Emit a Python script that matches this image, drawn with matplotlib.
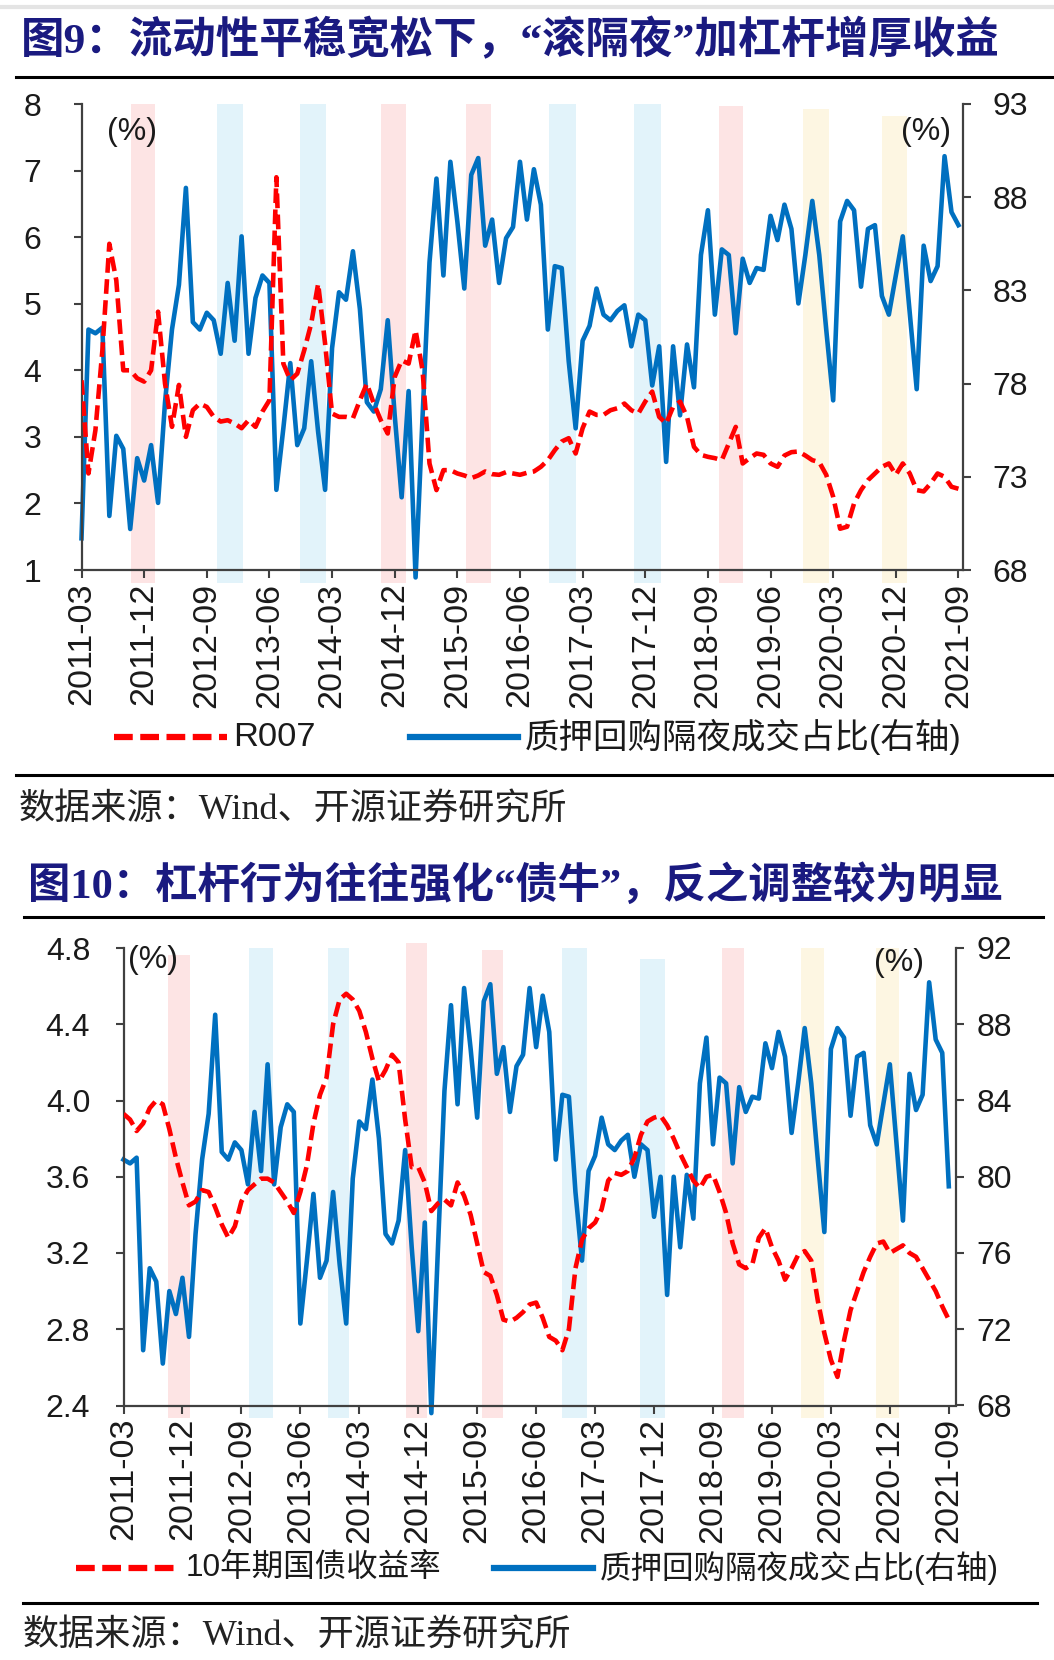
import matplotlib
matplotlib.use('Agg')
import matplotlib.pyplot as plt
from matplotlib.lines import Line2D

plt.rcParams['font.family'] = ['Liberation Sans', 'Noto Sans CJK SC', 'DejaVu Sans']

# ---------------- data ----------------
tick_labels = ['2011-03', '2011-12', '2012-09', '2013-06', '2014-03', '2014-12', '2015-09',
               '2016-06', '2017-03', '2017-12', '2018-09', '2019-06', '2020-03', '2020-12',
               '2021-09']

# 质押回购隔夜成交占比 (%), monthly; fig 9 uses [:-1], fig 10 uses [1:]
overnight_share = [
    69.7, 80.9, 80.7, 81.0, 70.9, 75.2, 74.5, 70.2, 74.0, 72.8,
    74.7, 71.6, 77.0, 80.9, 83.3, 88.5, 81.3, 80.9, 81.8, 81.4,
    79.6, 83.4, 80.3, 85.9, 79.6, 82.6, 83.8, 83.4, 72.3, 75.6,
    79.1, 74.7, 75.6, 79.2, 75.4, 72.3, 79.9, 82.9, 82.5, 85.1,
    82.0, 77.0, 76.5, 77.7, 81.4, 76.3, 71.9, 77.6, 67.6, 76.2,
    84.5, 89.0, 83.8, 89.9, 86.7, 83.1, 89.2, 90.1, 85.4, 86.8,
    83.4, 85.8, 86.4, 89.9, 86.8, 89.5, 87.6, 80.9, 84.3, 84.2,
    79.2, 75.6, 80.3, 81.1, 83.1, 81.7, 81.4, 81.9, 82.2, 80.0,
    81.7, 81.4, 77.9, 80.0, 73.8, 80.0, 76.3, 80.1, 77.8, 84.9,
    87.3, 81.7, 85.2, 84.9, 80.7, 84.7, 83.4, 84.2, 84.1, 87.0,
    85.7, 87.6, 86.3, 82.3, 84.9, 87.8, 84.9, 80.9, 77.1, 86.7,
    87.8, 87.3, 83.2, 86.3, 86.5, 82.7, 81.7, 83.8, 85.9, 81.8,
    77.7, 85.4, 83.5, 84.3, 90.2, 87.2, 86.5, 79.5]

# R007 (%)
r007 = [
    3.85, 2.45, 3.1, 4.3, 5.9, 5.35, 4.0, 4.0, 3.88, 3.83,
    4.0, 4.88, 3.8, 3.15, 3.78, 3.0, 3.4, 3.5, 3.45, 3.3,
    3.23, 3.25, 3.2, 3.13, 3.25, 3.15, 3.38, 3.55, 6.9, 4.1,
    3.85, 3.95, 4.3, 4.7, 5.3, 4.4, 3.35, 3.3, 3.3, 3.28,
    3.55, 3.8, 3.5, 3.25, 3.05, 3.9, 4.15, 4.1, 4.6, 4.0,
    2.6, 2.2, 2.5, 2.5, 2.45, 2.42, 2.38, 2.42, 2.48, 2.44,
    2.43, 2.47, 2.45, 2.43, 2.46, 2.48, 2.55, 2.65, 2.8, 2.93,
    2.98, 2.75, 3.13, 3.38, 3.33, 3.33, 3.4, 3.43, 3.5, 3.4,
    3.35, 3.53, 3.68, 3.3, 3.2, 3.45, 3.53, 3.3, 2.85, 2.73,
    2.7, 2.68, 2.65, 2.9, 3.15, 2.6, 2.68, 2.75, 2.73, 2.6,
    2.55, 2.72, 2.77, 2.78, 2.72, 2.65, 2.62, 2.43, 2.1, 1.62,
    1.65, 2.0, 2.2, 2.35, 2.45, 2.55, 2.6, 2.43, 2.6, 2.45,
    2.2, 2.18, 2.3, 2.45, 2.4, 2.25, 2.22]

# 10年期国债收益率 (%)
cgb10y = [
    3.93, 3.9, 3.84, 3.88, 3.96, 4.0, 3.98, 3.85, 3.7, 3.57,
    3.45, 3.47, 3.53, 3.52, 3.44, 3.35, 3.28, 3.34, 3.47, 3.53,
    3.56, 3.59, 3.59, 3.57, 3.52, 3.47, 3.41, 3.52, 3.66, 3.88,
    4.03, 4.12, 4.4, 4.53, 4.56, 4.53, 4.47, 4.36, 4.22, 4.1,
    4.16, 4.24, 4.2, 3.9, 3.65, 3.65, 3.57, 3.42, 3.46, 3.48,
    3.45, 3.57, 3.5, 3.4, 3.25, 3.1, 3.08, 2.98, 2.85, 2.84,
    2.86, 2.89, 2.93, 2.94, 2.86, 2.76, 2.74, 2.69, 2.8, 3.12,
    3.27, 3.33, 3.36, 3.43, 3.58, 3.62, 3.61, 3.63, 3.7, 3.82,
    3.89, 3.91, 3.92, 3.87, 3.8, 3.72, 3.65, 3.58, 3.54, 3.6,
    3.61, 3.52, 3.41, 3.25, 3.14, 3.12, 3.14, 3.28, 3.33, 3.23,
    3.16, 3.06, 3.12, 3.19, 3.21, 3.16, 2.95, 2.78, 2.64, 2.55,
    2.74, 2.9, 3.0, 3.1, 3.18, 3.25, 3.26, 3.2, 3.22, 3.24,
    3.2, 3.18, 3.12, 3.06, 3.0, 2.92, 2.85]

# shaded periods (month offsets from 2011-03)
spans_fig9 = [(7.1, 10.6), (19.4, 23.2), (31.4, 35.2), (43.1, 46.6), (55.3, 58.8),
              (67.2, 71.0), (79.4, 83.3), (91.6, 95.0), (103.6, 107.4), (115.0, 118.6)]
spans_fig10 = [(6.8, 10.1), (19.2, 22.8), (31.2, 34.4), (43.2, 46.4), (54.8, 57.9),
               (67.0, 70.7), (78.9, 82.7), (91.3, 94.7), (103.4, 106.9), (114.9, 118.4)]
span_kind = ['pink', 'blue', 'blue', 'pink', 'pink', 'blue', 'blue', 'pink', 'yellow', 'yellow']

# ---------------- style ----------------
W, H = 1054, 1660
band_colors = {'pink': '#fde4e4', 'blue': '#e2f3fa', 'yellow': '#fdf6e2'}
RED = '#ff0000'
BLUE = '#0070c0'
NAVY = '#1a1a80'
SPINE = '#404040'
CJK_SERIF = ['Liberation Serif', 'Noto Sans CJK SC']

fig = plt.figure(figsize=(W / 100, H / 100), dpi=100)


def fx(px):
    return px / W


def fy(py):
    return 1 - py / H


def hline(y, x0, x1, color='black', lw=2.2):
    fig.add_artist(Line2D([fx(x0), fx(x1)], [fy(y), fy(y)], color=color, lw=lw))


def draw_panel(box, red, blue, llim, lticks, lfmt, rlim, rticks, spans, tops,
               xmax, lpad, rpad):
    left, top, right, bottom = box
    ax = fig.add_axes([fx(left), fy(bottom), (right - left) / W, (bottom - top) / H])
    axr = ax.twinx()
    ax.set_zorder(axr.get_zorder() + 1)
    ax.patch.set_visible(False)

    x = list(range(len(red)))
    for (s, e), kind, t in zip(spans, span_kind, tops):
        axr.axvspan(s, e, ymin=-0.028, ymax=t, color=band_colors[kind], lw=0,
                    zorder=0, clip_on=False)
    axr.plot(x, blue, color=BLUE, lw=3.3, zorder=2, clip_on=False)
    ax.plot(x, red, color=RED, lw=3.3, ls=(0, (3.2, 1.4)), zorder=3)

    ax.set_xlim(0, xmax)
    ax.set_ylim(*llim)
    axr.set_ylim(*rlim)
    ax.set_yticks(lticks)
    ax.set_yticklabels([lfmt.format(v) for v in lticks])
    axr.set_yticks(rticks)
    axr.set_yticklabels([str(v) for v in rticks])
    ax.set_xticks(range(0, 127, 9))
    ax.set_xticklabels(tick_labels, rotation=90)

    for s in ['top', 'right']:
        ax.spines[s].set_visible(False)
    for s in ['top', 'left', 'bottom']:
        axr.spines[s].set_visible(False)
    for a in (ax, axr):
        for sp in a.spines.values():
            sp.set_color(SPINE)
            sp.set_linewidth(1.6)
    ax.tick_params(axis='y', direction='out', length=6, width=1.5, color=SPINE,
                   pad=lpad, labelsize=23, labelcolor='#1a1a1a')
    axr.tick_params(axis='y', direction='out', length=6, width=1.5, color=SPINE,
                    pad=rpad, labelsize=23, labelcolor='#1a1a1a')
    ax.tick_params(axis='x', direction='out', length=6, width=1.5, color=SPINE,
                   pad=3, labelsize=24.5, labelcolor='#1a1a1a')
    return ax, axr


def legend_row(y, red_x, red_label, blue_x, blue_label, size):
    fig.add_artist(Line2D([fx(red_x[0]), fx(red_x[1])], [fy(y), fy(y)], color=RED,
                          lw=4.5, ls=(0, (3.0, 1.2))))
    fig.text(fx(red_x[1] + 6), fy(y), red_label, fontsize=size, va='center', ha='left',
             color='#1a1a1a')
    fig.add_artist(Line2D([fx(blue_x[0]), fx(blue_x[1])], [fy(y), fy(y)], color=BLUE,
                          lw=4.5))
    fig.text(fx(blue_x[1] + 7), fy(y), blue_label, fontsize=size, va='center', ha='left',
             color='#1a1a1a')


# top page edge
hline(7, 0, W, color='#e4e4e4', lw=3)

# ---------------- figure 9 ----------------
fig.text(fx(21), fy(41), '图9：流动性平稳宽松下，“滚隔夜”加杠杆增厚收益', fontsize=31.3,
         fontweight='bold', color=NAVY, va='center', ha='left', family=CJK_SERIF)
hline(77, 16, W)
draw_panel((81.5, 104, 963, 570), r007, overnight_share[:-1],
           (1, 8), list(range(1, 9)), '{:d}', (68, 93), list(range(68, 94, 5)),
           spans_fig9, [1.0] * 7 + [0.995, 0.99, 0.975], (963 - 81.5) / 6.96, 23, 15)
fig.text(fx(132), fy(132), '(%)', fontsize=23, ha='center', va='center', color='#1a1a1a')
fig.text(fx(926), fy(132), '(%)', fontsize=23, ha='center', va='center', color='#1a1a1a')
legend_row(737, (114, 227), 'R007', (410, 518), '质押回购隔夜成交占比(右轴)', 24.8)
hline(775.5, 16, W)
fig.text(fx(19), fy(810), '数据来源：Wind、开源证券研究所', fontsize=26, va='center',
         ha='left', color='#222222', family=CJK_SERIF)

# ---------------- figure 10 ----------------
fig.text(fx(28), fy(886), '图10：杠杆行为往往强化“债牛”，反之调整较为明显', fontsize=30.5,
         fontweight='bold', color=NAVY, va='center', ha='left', family=CJK_SERIF)
hline(917.5, 24, 1043)
draw_panel((123.5, 948, 956, 1405.5), cgb10y, overnight_share[1:],
           (2.4, 4.8), [2.4, 2.8, 3.2, 3.6, 4.0, 4.4, 4.8], '{:.1f}', (68, 92),
           list(range(68, 93, 4)), spans_fig10,
           [0.985, 1.0, 1.0, 1.01, 0.995, 1.0, 0.975, 1.0, 1.0, 1.0],
           (956 - 123.5) / 6.55, 18, 9)
fig.text(fx(153), fy(960), '(%)', fontsize=23, ha='center', va='center', color='#1a1a1a')
fig.text(fx(899), fy(963), '(%)', fontsize=23, ha='center', va='center', color='#1a1a1a')
legend_row(1568, (76, 180), '10年期国债收益率', (494, 593), '质押回购隔夜成交占比(右轴)', 22.7)
hline(1603, 23, 1037)
fig.text(fx(23), fy(1636), '数据来源：Wind、开源证券研究所', fontsize=26, va='center',
         ha='left', color='#222222', family=CJK_SERIF)

fig.savefig('out.png', dpi=100, facecolor='white')
